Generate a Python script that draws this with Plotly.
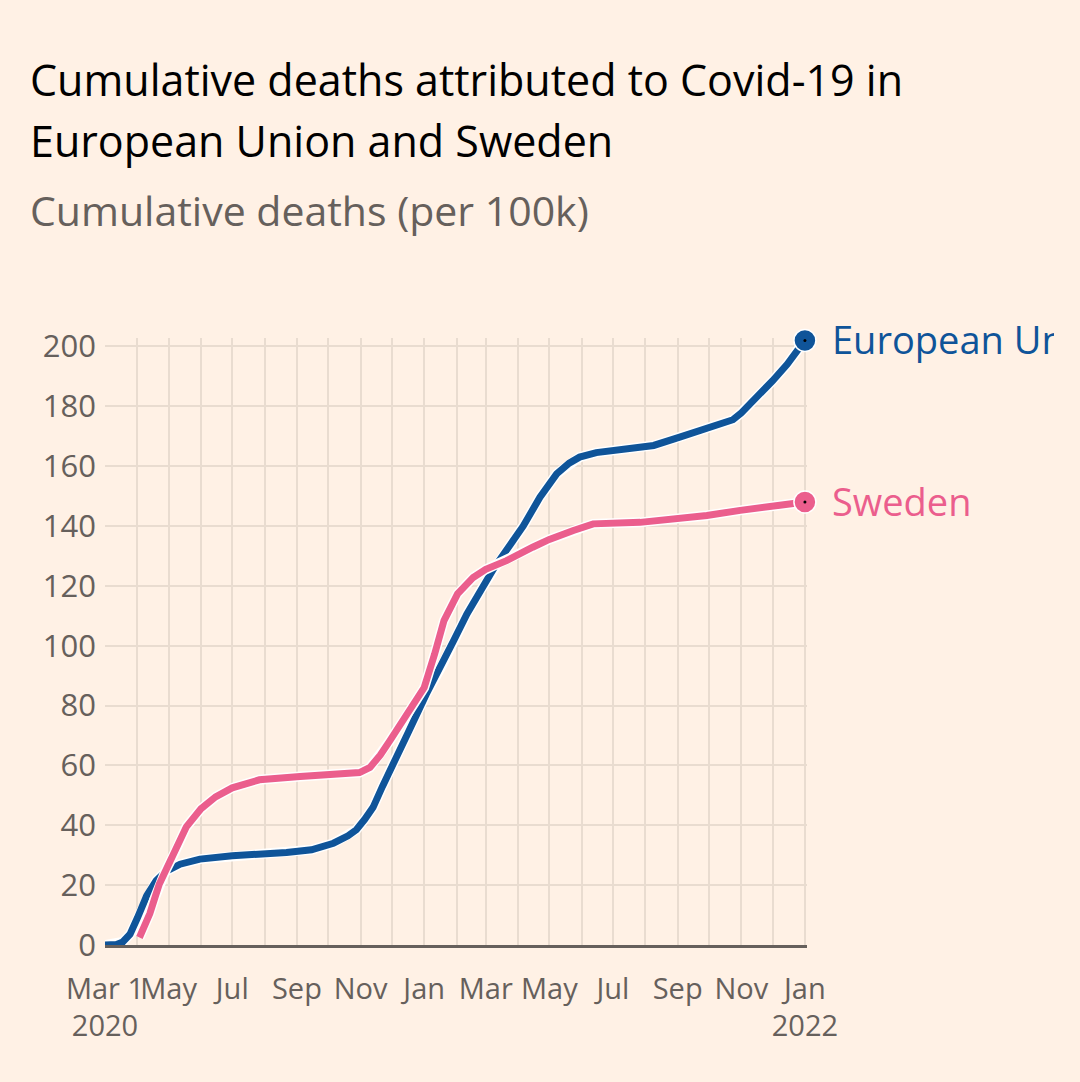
import plotly.graph_objects as go

# ---------------- data ----------------
eu_dates = ["2020-03-01", "2020-03-12", "2020-03-18", "2020-03-25", "2020-04-01",
            "2020-04-10", "2020-04-19", "2020-04-28", "2020-05-12", "2020-05-31",
            "2020-07-01", "2020-08-01", "2020-08-22", "2020-09-15", "2020-10-06",
            "2020-10-20", "2020-10-28", "2020-11-05", "2020-11-13", "2020-11-22",
            "2020-12-03", "2020-12-16", "2021-01-03", "2021-01-19", "2021-01-29",
            "2021-02-11", "2021-02-24", "2021-03-09", "2021-03-25", "2021-04-06",
            "2021-04-22", "2021-05-08", "2021-05-20", "2021-05-30", "2021-06-15",
            "2021-07-01", "2021-08-09", "2021-09-03", "2021-09-29", "2021-10-24",
            "2021-11-01", "2021-11-15", "2021-12-01", "2021-12-15", "2022-01-01"]
eu_values = [0, 0.2, 1, 3.6, 9,
             16.5, 21.5, 24.5, 27, 28.7,
             29.8, 30.3, 30.9, 31.8, 34,
             36.5, 38.5, 42, 46, 53,
             61.5, 70.5, 83.8, 94, 101.5,
             110.6, 118.4, 126, 134, 140,
             149.6, 157.4, 161, 163, 164.5,
             165.2, 166.9, 169.7, 172.5, 175.5,
             177.8, 182.5, 188.5, 194, 202]

se_dates = ["2020-04-03", "2020-04-08", "2020-04-13", "2020-04-18", "2020-04-22",
            "2020-04-29", "2020-05-07", "2020-05-18", "2020-06-01", "2020-06-15",
            "2020-07-01", "2020-07-27", "2020-09-04", "2020-10-06", "2020-10-31",
            "2020-11-10", "2020-11-20", "2020-11-29", "2020-12-16", "2021-01-01",
            "2021-01-11", "2021-01-20", "2021-02-02", "2021-02-17", "2021-03-01",
            "2021-03-21", "2021-04-15", "2021-05-01", "2021-05-24", "2021-06-12",
            "2021-07-27", "2021-08-15", "2021-09-29", "2021-10-31", "2021-12-02",
            "2022-01-01"]
se_values = [2.5, 6, 10.5, 16, 20.3,
             25.5, 31, 39.5, 45.5, 49.5,
             52.5, 55.2, 56.3, 57.3, 57.6,
             59.3, 63.5, 68.2, 77.2, 86,
             97.2, 108.4, 117.3, 122.8, 125.5,
             128.4, 132.9, 135.5, 138.5, 140.7,
             141.2, 141.8, 143.5, 145.2, 146.5,
             148]

series_names = ["European Union", "Sweden"]

month_ticks = ["2020-03-01", "2020-04-01", "2020-05-01", "2020-06-01", "2020-07-01",
               "2020-08-01", "2020-09-01", "2020-10-01", "2020-11-01", "2020-12-01",
               "2021-01-01", "2021-02-01", "2021-03-01", "2021-04-01", "2021-05-01",
               "2021-06-01", "2021-07-01", "2021-08-01", "2021-09-01", "2021-10-01",
               "2021-11-01", "2021-12-01", "2022-01-01"]
month_labels = ["Mar 1<br>2020", "", "May", "", "Jul", "", "Sep", "", "Nov", "",
                "Jan", "", "Mar", "", "May", "", "Jul", "", "Sep", "", "Nov", "",
                "Jan<br>2022"]
y_ticks = [0, 20, 40, 60, 80, 100, 120, 140, 160, 180, 200]

# ---------------- styles ----------------
BG = "#FFF1E5"
GRID = "#E9DCD0"
AXIS = "#66605C"
BLUE = "#0F5499"
PINK = "#EB5E8D"
HALO = "#FFFFFF"
FONT = "Open Sans"

fig = go.Figure()

for dates, vals, col in [(eu_dates, eu_values, BLUE), (se_dates, se_values, PINK)]:
    fig.add_trace(go.Scatter(x=dates, y=vals, mode="lines",
                             line=dict(color=HALO, width=10),
                             hoverinfo="skip", showlegend=False, cliponaxis=False))
    fig.add_trace(go.Scatter(x=dates, y=vals, mode="lines",
                             line=dict(color=col, width=7),
                             showlegend=False, cliponaxis=False))

for dates, vals, col, name in [(eu_dates, eu_values, BLUE, series_names[0]),
                               (se_dates, se_values, PINK, series_names[1])]:
    fig.add_trace(go.Scatter(x=[dates[-1]], y=[vals[-1]], mode="markers",
                             marker=dict(color=col, size=22, line=dict(color=HALO, width=1.5)),
                             showlegend=False, cliponaxis=False))
    fig.add_trace(go.Scatter(x=[dates[-1]], y=[vals[-1]], mode="markers",
                             marker=dict(color="#000000", size=3),
                             showlegend=False, cliponaxis=False))
    fig.add_annotation(x=dates[-1], y=vals[-1], xref="x", yref="y",
                       text=name, showarrow=False, xanchor="left", yanchor="middle",
                       xshift=26, yshift=1, align="left",
                       width=222 if name == series_names[0] else None,
                       borderpad=0,
                       font=dict(family=FONT, size=38, color=col))

def py(p):
    return (945 - p) / 607.0

fig.add_annotation(x=-0.11, y=py(79), xref="paper", yref="paper", xanchor="left",
                   yanchor="middle", showarrow=False,
                   text="Cumulative deaths attributed to Covid-19 in",
                   font=dict(family=FONT, size=43, color="#000000"))
fig.add_annotation(x=-0.11, y=py(140), xref="paper", yref="paper", xanchor="left",
                   yanchor="middle", showarrow=False,
                   text="European Union and Sweden",
                   font=dict(family=FONT, size=43, color="#000000"))
fig.add_annotation(x=-0.11, y=py(210), xref="paper", yref="paper", xanchor="left",
                   yanchor="middle", showarrow=False,
                   text="Cumulative deaths (per 100k)",
                   font=dict(family=FONT, size=41, color="#66605C"))

fig.update_layout(
    width=1080, height=1082,
    margin=dict(l=105, r=273, t=338, b=137),
    paper_bgcolor=BG, plot_bgcolor=BG,
    font=dict(family=FONT, color=AXIS),
    showlegend=False,
)
fig.update_xaxes(
    type="date", range=["2020-03-01", "2022-01-03"],
    tickmode="array", tickvals=month_ticks, ticktext=month_labels,
    tickangle=0, showgrid=True, gridcolor=GRID, gridwidth=2,
    showline=True, linecolor=AXIS, linewidth=2.5,
    ticks="", ticklabelstandoff=16,
    tickfont=dict(family=FONT, size=29, color=AXIS),
    zeroline=False,
)
fig.update_yaxes(
    range=[0, 202.8], tickmode="array", tickvals=y_ticks,
    showgrid=True, gridcolor=GRID, gridwidth=2, zeroline=False,
    showline=False, ticks="", ticklabelstandoff=8,
    tickfont=dict(family=FONT, size=31, color=AXIS),
)

fig.write_html("out.html")
